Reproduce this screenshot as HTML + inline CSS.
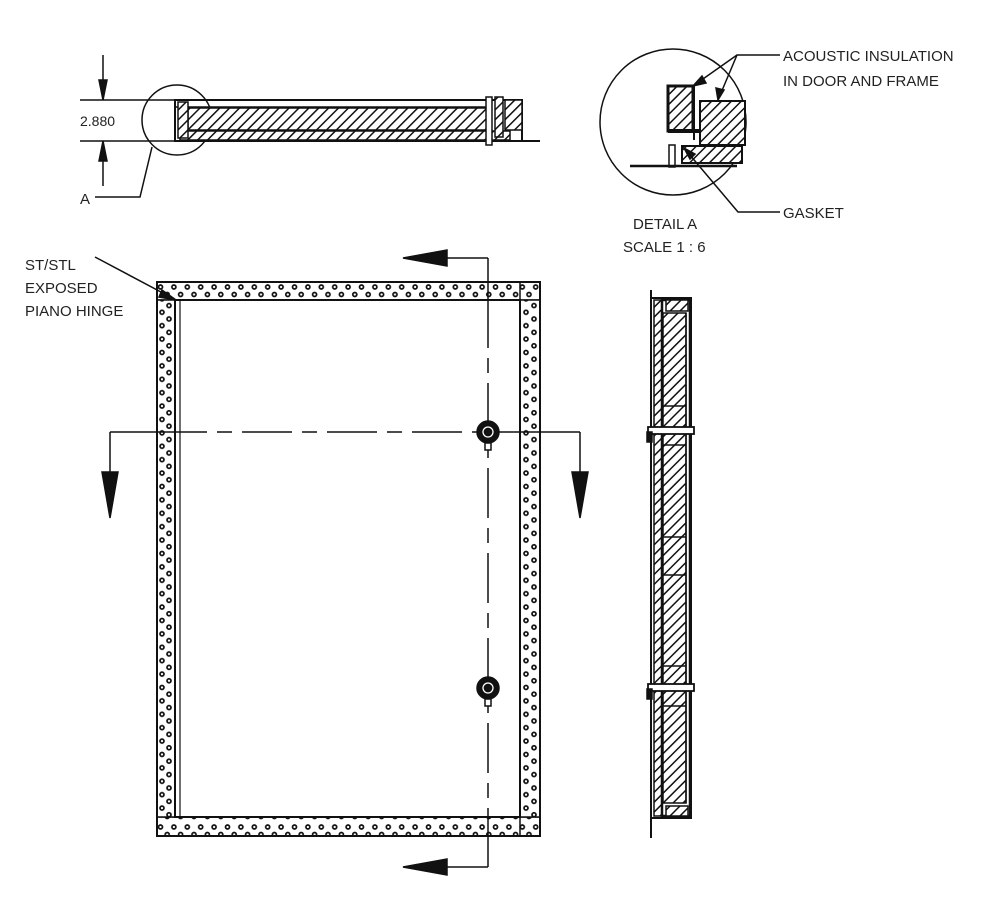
<!DOCTYPE html>
<html><head><meta charset="utf-8"><style>
html,body{margin:0;padding:0;background:#fff}
svg{display:block}
text{font-family:"Liberation Sans",Arial,sans-serif;fill:#222}
</style></head><body>
<svg width="1000" height="900" viewBox="0 0 1000 900" xmlns="http://www.w3.org/2000/svg">
<defs>
<pattern id="hatch" patternUnits="userSpaceOnUse" width="7" height="7" patternTransform="rotate(45)">
<rect width="7" height="7" fill="#fff"/><line x1="0" y1="0" x2="0" y2="7" stroke="#111" stroke-width="3"/>
</pattern>
<pattern id="dotsH" patternUnits="userSpaceOnUse" x="157" y="282" width="13.4" height="18">
<rect width="13.4" height="18" fill="#fff"/>
<circle cx="3.5" cy="5" r="2" fill="none" stroke="#111" stroke-width="1.7"/>
<circle cx="10.2" cy="12.5" r="2" fill="none" stroke="#111" stroke-width="1.7"/>
</pattern>
<pattern id="dotsV" patternUnits="userSpaceOnUse" x="157" y="282" width="18" height="13.4">
<rect width="18" height="13.4" fill="#fff"/>
<circle cx="5" cy="3.5" r="2" fill="none" stroke="#111" stroke-width="1.7"/>
<circle cx="12" cy="10.2" r="2" fill="none" stroke="#111" stroke-width="1.7"/>
</pattern>
<pattern id="dotsV2" patternUnits="userSpaceOnUse" x="520" y="282" width="20" height="13.4">
<rect width="20" height="13.4" fill="#fff"/>
<circle cx="6" cy="3.5" r="2" fill="none" stroke="#111" stroke-width="1.7"/>
<circle cx="14" cy="10.2" r="2" fill="none" stroke="#111" stroke-width="1.7"/>
</pattern>
</defs>

<g stroke="#111" fill="none" stroke-width="1.5">
<line x1="80" y1="100" x2="175" y2="100"/>
<line x1="80" y1="141" x2="175" y2="141"/>
<line x1="103" y1="55" x2="103" y2="100"/>
<line x1="103" y1="141" x2="103" y2="186"/>
<polygon points="99,80 107,80 103,100" fill="#111"/>
<polygon points="99,161 107,161 103,141" fill="#111"/>
<circle cx="177" cy="120" r="35"/>
<polyline points="152,147 140,197 95,197"/>
<rect x="175" y="100" width="347" height="41" stroke-width="2"/>
<line x1="175" y1="107" x2="490" y2="107"/>
<rect x="188" y="108" width="300" height="22" fill="url(#hatch)"/>
<rect x="180" y="131" width="330" height="9" fill="url(#hatch)"/>
<rect x="178" y="102" width="10" height="36" fill="url(#hatch)"/>
<rect x="505" y="100" width="17" height="30" fill="url(#hatch)"/>
<line x1="175" y1="141" x2="540" y2="141" stroke-width="2"/>
<rect x="486" y="97" width="6" height="48" fill="#fff"/>
<rect x="495" y="97" width="8" height="40" fill="url(#hatch)"/>

<circle cx="673" cy="122" r="73"/>
<rect x="668" y="86" width="25" height="45" fill="url(#hatch)" stroke-width="3"/>
<rect x="700" y="101" width="45" height="44" fill="url(#hatch)" stroke-width="2"/>
<rect x="682" y="146" width="60" height="17" fill="url(#hatch)" stroke-width="2"/>
<line x1="668" y1="131" x2="700" y2="131" stroke-width="4"/>
<rect x="669" y="145" width="6" height="22" fill="#fff"/>
<line x1="630" y1="166" x2="737" y2="166" stroke-width="2.5"/>
<line x1="694" y1="86" x2="694" y2="140" stroke-width="2"/>
<polyline points="780,55 737,55 693,86"/>
<line x1="737" y1="55" x2="718" y2="100"/>
<polygon points="693,86 702,76 706,83" fill="#111"/>
<polygon points="718,100 716,88 724,90" fill="#111"/>
<polyline points="780,212 738,212 684,148"/>
<polygon points="684,148 695,154 690,159" fill="#111"/>

<rect x="157" y="282" width="383" height="18" fill="url(#dotsH)"/>
<rect x="157" y="817" width="383" height="19" fill="url(#dotsH)"/>
<rect x="157" y="300" width="18" height="517" fill="url(#dotsV)"/>
<rect x="520" y="300" width="20" height="517" fill="url(#dotsV2)"/>
<rect x="157" y="282" width="383" height="554" stroke-width="2"/>
<rect x="175" y="300" width="345" height="517" stroke-width="2"/>
<rect x="175" y="300" width="5" height="517" stroke-width="1.2"/>
<line x1="520" y1="282" x2="520" y2="300"/>
<line x1="520" y1="817" x2="520" y2="836"/>
<line x1="95" y1="257" x2="176" y2="300"/>
<polygon points="176,300 162,290 159,297" fill="#111"/>

<line x1="488" y1="258" x2="488" y2="298"/>
<line x1="488" y1="258" x2="440" y2="258"/>
<polygon points="403,258 447,250 447,266" fill="#111"/>
<line x1="488" y1="298" x2="488" y2="855" stroke-dasharray="50,10,15,10"/>
<line x1="488" y1="867" x2="440" y2="867"/>
<line x1="488" y1="855" x2="488" y2="867"/>
<polygon points="403,867 447,859 447,875" fill="#111"/>
<line x1="110" y1="432" x2="157" y2="432"/>
<line x1="157" y1="432" x2="540" y2="432" stroke-dasharray="50,10,15,10"/>
<line x1="540" y1="432" x2="580" y2="432"/>
<line x1="110" y1="432" x2="110" y2="480"/>
<line x1="580" y1="432" x2="580" y2="480"/>
<polygon points="102,472 118,472 110,518" fill="#111"/>
<polygon points="572,472 588,472 580,518" fill="#111"/>
<circle cx="488" cy="432" r="11" fill="#111"/>
<rect x="485" y="443" width="6" height="7" fill="#fff"/>
<circle cx="488" cy="432" r="5" stroke="#fff" stroke-width="1.3"/>
<circle cx="488" cy="688" r="11" fill="#111"/>
<rect x="485" y="699" width="6" height="7" fill="#fff"/>
<circle cx="488" cy="688" r="5" stroke="#fff" stroke-width="1.3"/>

<line x1="651" y1="290" x2="651" y2="838" stroke-width="2"/>
<rect x="651" y="298" width="40" height="520" stroke-width="2"/>
<rect x="654" y="300" width="8" height="516" fill="url(#hatch)"/>
<rect x="662" y="300" width="28" height="516" stroke-width="2.5"/>
<rect x="666" y="300" width="22" height="11" fill="url(#hatch)"/>
<rect x="666" y="806" width="22" height="10" fill="url(#hatch)"/>
<rect x="663" y="313" width="23" height="490" fill="url(#hatch)"/>
<line x1="686" y1="313" x2="686" y2="803"/>
<line x1="663" y1="406" x2="686" y2="406"/>
<line x1="663" y1="445" x2="686" y2="445"/>
<line x1="663" y1="537" x2="686" y2="537"/>
<line x1="663" y1="575" x2="686" y2="575"/>
<line x1="663" y1="666" x2="686" y2="666"/>
<line x1="663" y1="706" x2="686" y2="706"/>
<rect x="648" y="427" width="46" height="7" fill="#fff" stroke-width="1.8"/>
<rect x="648" y="684" width="46" height="7" fill="#fff" stroke-width="1.8"/>
<rect x="647" y="432" width="5" height="10" fill="#111"/>
<rect x="647" y="689" width="5" height="10" fill="#111"/>
</g>

<text x="80" y="126" font-size="14">2.880</text>
<text x="80" y="204" font-size="15">A</text>
<text x="783" y="61" font-size="15">ACOUSTIC INSULATION</text>
<text x="783" y="86" font-size="15">IN DOOR AND FRAME</text>
<text x="783" y="218" font-size="15">GASKET</text>
<text x="633" y="229" font-size="15">DETAIL A</text>
<text x="623" y="252" font-size="15">SCALE 1 : 6</text>
<text x="25" y="270" font-size="15">ST/STL</text>
<text x="25" y="293" font-size="15">EXPOSED</text>
<text x="25" y="316" font-size="15">PIANO HINGE</text>
</svg>
</body></html>
